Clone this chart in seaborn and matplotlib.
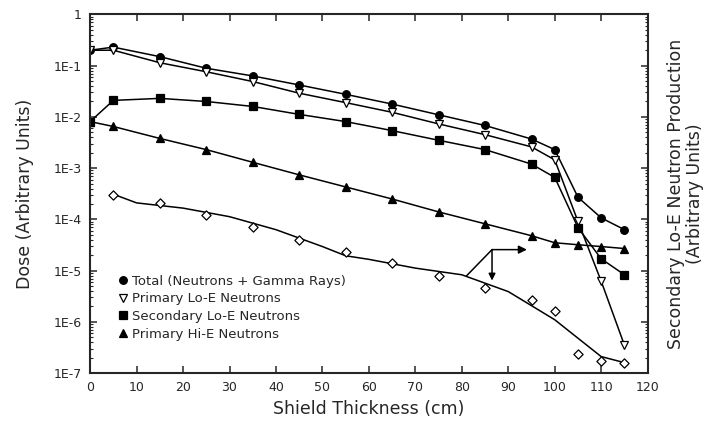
import numpy as np
import pandas as pd
import matplotlib
matplotlib.use("Agg")
import matplotlib.pyplot as plt
from matplotlib.ticker import FixedLocator, FuncFormatter, LogLocator, NullFormatter
import seaborn as sns

# shield thickness (cm) of the calculated points
x_main = [0, 5, 15, 25, 35, 45, 55, 65, 75, 85, 95, 100, 105, 110, 115]
x_diam = [5, 15, 25, 35, 45, 55, 65, 75, 85, 95, 100, 105, 110, 115]

total = [0.20, 0.23, 0.15, 0.089, 0.063, 0.042, 0.0276, 0.0178, 0.011, 0.0068,
         0.0037, 0.0023, 2.7e-4, 1.07e-4, 6.3e-5]
prim_lo = [0.20, 0.20, 0.114, 0.076, 0.049, 0.029, 0.019, 0.0123, 0.0073, 0.0045,
           0.0026, 0.00145, 9.1e-5, 6.2e-6, 3.5e-7]
sec_lo = [0.0081, 0.021, 0.023, 0.020, 0.016, 0.0112, 0.0081, 0.0054, 0.0035,
          0.0023, 0.0012, 6.6e-4, 6.9e-5, 1.7e-5, 8.3e-6]
prim_hi = [0.0081, 0.0065, 0.0038, 0.0023, 0.0013, 7.4e-4, 4.3e-4, 2.5e-4, 1.4e-4,
           8.2e-5, 4.8e-5, 3.5e-5, 3.2e-5, 2.95e-5, 2.7e-5]
sec_prod = [3.0e-4, 2.1e-4, 1.23e-4, 7.2e-5, 4.0e-5, 2.3e-5, 1.4e-5, 7.7e-6,
            4.6e-6, 2.7e-6, 1.65e-6, 2.35e-7, 1.7e-7, 1.58e-7]

# fitted curve through the production points
x_fit = [5, 10, 20, 30, 40, 50, 55, 60, 70, 80, 90, 100, 105, 110, 115]
sec_prod_fit = [3.1e-4, 2.1e-4, 1.66e-4, 1.13e-4, 6.3e-5, 2.95e-5, 1.95e-5, 1.66e-5,
                1.12e-5, 8.3e-6, 3.9e-6, 1.1e-6, 4.8e-7, 2.1e-7, 1.6e-7]

labels = ["Total (Neutrons + Gamma Rays)", "Primary Lo-E Neutrons",
          "Secondary Lo-E Neutrons", "Primary Hi-E Neutrons"]
y_ticks = [1e-7, 1e-6, 1e-5, 1e-4, 1e-3, 1e-2, 1e-1, 1]

sns.set_style("ticks")
plt.rcParams["font.family"] = ["DejaVu Sans"]

fig, ax = plt.subplots(figsize=(7.04, 4.24), dpi=100)
fig.subplots_adjust(left=0.128, right=0.920, top=0.966, bottom=0.120)

series = [(total, "o", "black"), (prim_lo, "v", "white"),
          (sec_lo, "s", "black"), (prim_hi, "^", "black")]
for (vals, mk, fc), lab in zip(series, labels):
    sns.lineplot(x=x_main, y=vals, ax=ax, color="black", lw=1.1, label=lab,
                 marker=mk, markersize=5.5, markerfacecolor=fc,
                 markeredgecolor="black", markeredgewidth=0.9)

sns.lineplot(x=x_fit, y=sec_prod_fit, ax=ax, color="black", lw=1.1)
sns.scatterplot(x=x_diam, y=sec_prod, ax=ax, marker="D", s=22,
                facecolor="white", edgecolor="black", linewidth=0.9, zorder=5)

# arrow pointing to the right-hand axis
ax.plot([81, 86.5], [7.9e-6, 2.57e-5], color="black", lw=1.1)
ax.annotate("", xy=(94, 2.57e-5), xytext=(86.5, 2.57e-5),
            arrowprops=dict(arrowstyle="-|>", color="black", lw=1.1,
                            mutation_scale=12, shrinkA=0, shrinkB=0))
ax.annotate("", xy=(86.5, 6.4e-6), xytext=(86.5, 2.57e-5),
            arrowprops=dict(arrowstyle="-|>", color="black", lw=1.1,
                            mutation_scale=10, shrinkA=0, shrinkB=0))

ax.set_yscale("log")
ax.set_xlim(0, 120)
ax.set_ylim(1e-7, 1)
ax.set_xticks(range(0, 121, 10))
ax.yaxis.set_major_locator(FixedLocator(y_ticks))
ax.yaxis.set_major_formatter(FuncFormatter(
    lambda v, p: "1" if v >= 1 else "1E%d" % round(np.log10(v))))
ax.yaxis.set_minor_locator(LogLocator(base=10, subs=np.arange(2, 10), numticks=20))
ax.yaxis.set_minor_formatter(NullFormatter())
ax.tick_params(which="major", direction="in", top=True, right=True, length=5,
               width=1.1, labelsize=9, pad=6)
ax.tick_params(which="minor", direction="in", right=True, length=2.5, width=0.8)
for sp in ax.spines.values():
    sp.set_linewidth(1.5)

ax.set_xlabel("Shield Thickness (cm)", fontsize=12.5, labelpad=4)
ax.set_ylabel("Dose (Arbitrary Units)", fontsize=12.5, labelpad=14)
ax.text(1.068, 0.5, "Secondary Lo-E Neutron Production\n(Arbitrary Units)",
        transform=ax.transAxes, rotation=90, ha="center", va="center",
        fontsize=12.5, linespacing=1.1)

leg = ax.legend(loc="upper left", bbox_to_anchor=(0.035, 0.30), frameon=False,
                fontsize=9.5, handlelength=0.6, handletextpad=0.4,
                labelspacing=0.35, borderpad=0.2)
for h in leg.legend_handles:
    h.set_linestyle("none")

fig.savefig("out.png", dpi=100)
